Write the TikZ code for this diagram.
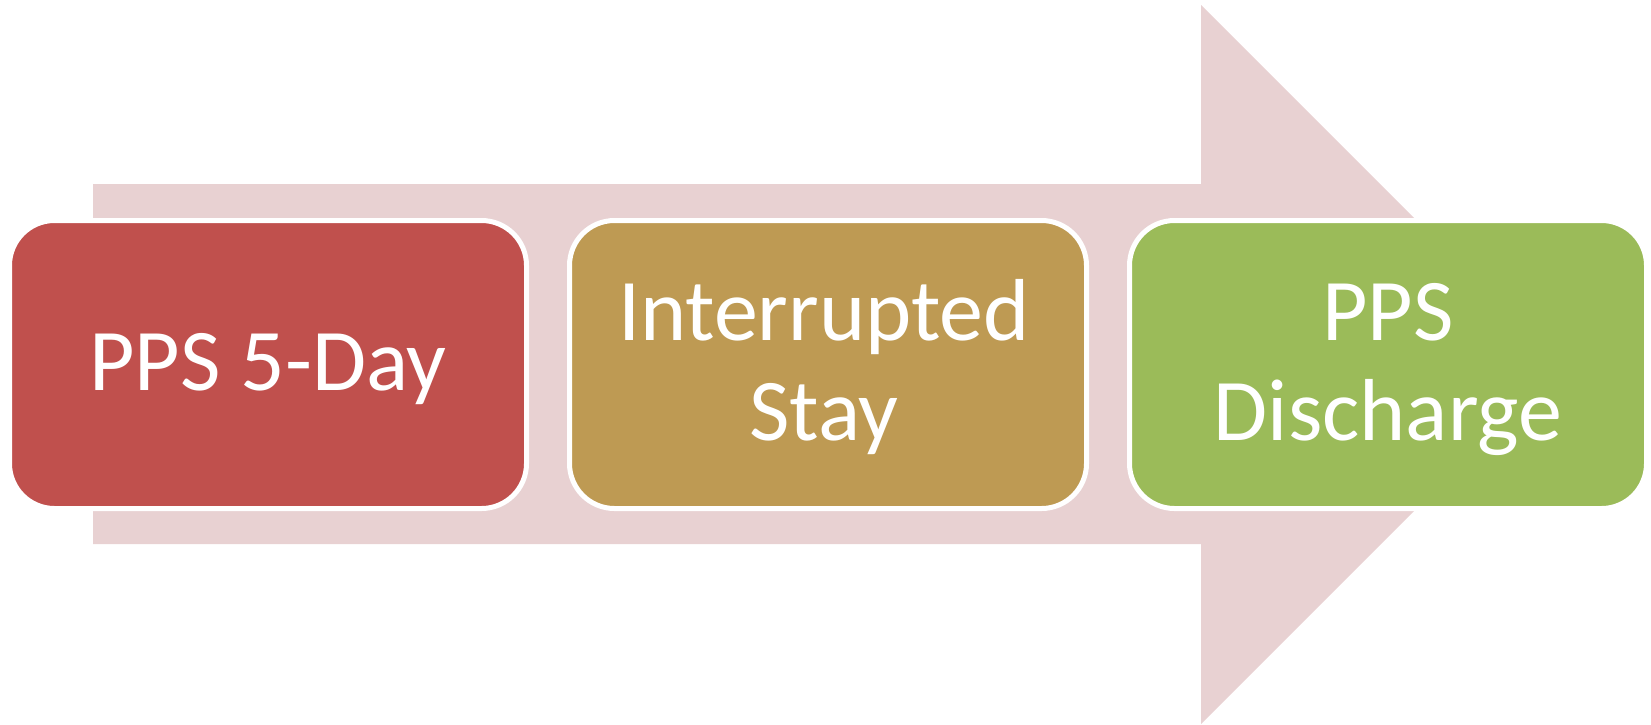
\documentclass[tikz,border=0pt]{standalone}
\usepackage{fontspec}
\setmainfont{Carlito}
\definecolor{arrowpink}{HTML}{E8D1D2}
\definecolor{boxred}{HTML}{C0504D}
\definecolor{boxtan}{HTML}{BE9A53}
\definecolor{boxgreen}{HTML}{9BBB59}
\begin{document}
\begin{tikzpicture}[x=1pt,y=-1pt,
  stagebox/.style={draw=white, line width=5pt, rounded corners=45pt,
    minimum width=517pt, minimum height=288pt, inner sep=0pt},
  stagetext/.style={text=white, align=center, anchor=base, inner sep=0pt,
    font=\fontsize{88}{100}\selectfont}]
\useasboundingbox (0,0) rectangle (1651,724);
% background arrow
\fill[arrowpink] (93,184) -- (1201,184) -- (1201,5) -- (1560.5,364.5)
  -- (1201,724) -- (1201,544) -- (93,544) -- cycle;
% stage boxes
\node[stagebox, fill=boxred]   (b1) at (268,364.5) {};
\node[stagebox, fill=boxtan]   (b2) at (828,364.5) {};
\node[stagebox, fill=boxgreen] (b3) at (1388,364.5) {};
% labels (base anchor = baseline of the last line)
\node[stagetext] (t1) at (268,390) {PPS 5-Day};
\node[stagetext] (t2) at (824,440) {Interrupted\\Stay};
\node[stagetext] (t3) at (1388,440) {PPS\\Discharge};
\end{tikzpicture}
\end{document}
